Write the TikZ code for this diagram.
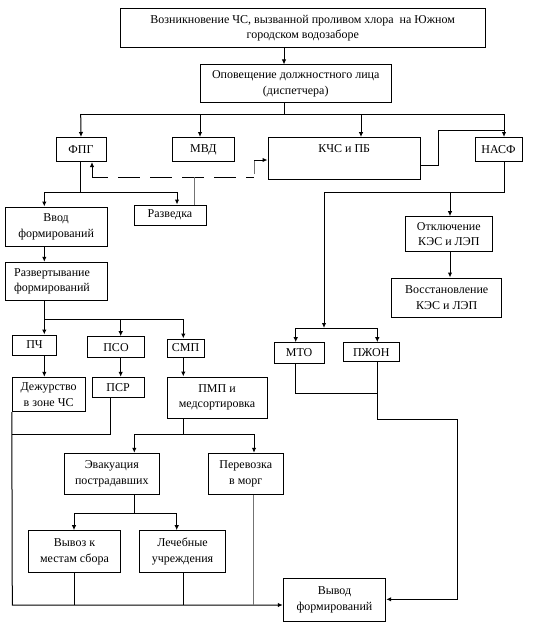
\documentclass[tikz,border=0pt]{standalone}
\usepackage{fontspec}
\setmainfont{Liberation Serif}
\usetikzlibrary{arrows.meta}
\tikzset{
  blk/.style={draw,line width=1pt,align=center,inner sep=1pt,font=\fontsize{12}{15.5}\selectfont},
  blkarr/.style={-{Latex[length=5pt,width=4.5pt]},line width=1pt},
  blkln/.style={line width=1pt},
  grayln/.style={line width=1pt,black!55},
  dashln/.style={line width=1pt,dash pattern=on 22pt off 10pt,dash phase=6pt}
}

\begin{document}
\begin{tikzpicture}[x=1pt,y=-1pt]
  \useasboundingbox (0,0) rectangle (536,626);

  % --- Niveau 1 : alerte ---
  \node[blk,minimum width=365.5pt,minimum height=39.5pt] (top) at (302.75,28.25)
    {Возникновение ЧС, вызванной проливом хлора\ \ на Южном\\городском водозаборе};
  \node[blk,minimum width=191.5pt,minimum height=37.6pt] (opov) at (295.75,83.8)
    {Оповещение должностного лица\\(диспетчера)};
  \coordinate (b0) at (284,114);
  \draw[blkarr] (top.south -| b0) -- (opov.north -| b0);
  \draw[blkln] (opov.south -| b0) -- (b0);

  % --- Niveau 2 : services ---
  \node[blk,minimum width=50pt,minimum height=24pt] (fpg) at (81,149.5) {ФПГ};
  \node[blk,minimum width=61.4pt,minimum height=24pt] (mvd) at (203.3,149.5) {МВД};
  \node[blk,minimum width=152.5pt,minimum height=41.4pt] (kchs) at (344.25,158.3) {КЧС и ПБ\\\strut};
  \node[blk,minimum width=47pt,minimum height=24pt] (nasf) at (498.5,149.5) {НАСФ};
  \coordinate (bf) at (80.7,114);
  \coordinate (bm) at (200,114);
  \coordinate (bk) at (361,114);
  \coordinate (bn) at (504,114);
  \draw[blkln] (bf) -- (bn);
  \draw[blkarr] (bf) -- (fpg.north);
  \draw[blkarr] (bm) -- (bm |- mvd.north);
  \draw[blkarr] (bk) -- (bk |- kchs.north);
  \draw[blkarr] (bn) -- (bn |- nasf.north);
  \coordinate (k1) at (438.6,165);
  \coordinate (k2) at (504,130);
  \draw[blkln] (kchs.east |- k1) -- (k1) |- (k2);

  % --- Branche ФПГ ---
  \node[blk,minimum width=102.3pt,minimum height=39.7pt] (vvod) at (56.15,226.85) {Ввод\\формирований};
  \node[blk,minimum width=72pt,minimum height=20pt] (razv) at (170,215) {Разведка};
  \coordinate (f1) at (80.7,192);
  \coordinate (f2) at (44.3,192);
  \coordinate (f3) at (177,192);
  \draw[blkln] (fpg.south -| f1) -- (f1);
  \draw[blkln] (f2) -- (f3);
  \draw[blkarr] (f2) -- (vvod.north -| f2);
  \draw[blkarr] (f3) -- (razv.north -| f3);

  % liaison de reconnaissance (pointillés)
  \coordinate (d1) at (92,177);
  \coordinate (d2) at (254,177);
  \coordinate (d3) at (194,177);
  \coordinate (d4) at (254,160);
  \draw[dashln] (d1) -- (d2);
  \draw[grayln] (razv.north -| d3) -- (d3);
  \draw[blkarr] (d1) -- (fpg.south -| d1);
  \draw[grayln] ([yshift=3pt]d2) -- (d4);
  \draw[blkarr] (d4) -- (kchs.west |- d4);

  \node[blk,minimum width=102.3pt,minimum height=37.7pt,align=left,text width=84pt] (razvert) at (56.15,281.15)
    {Развертывание\\формирований};
  \draw[blkarr] (vvod.south -| f2) -- (razvert.north -| f2);

  % --- Niveau 3 : ПЧ, ПСО, СМП ---
  \node[blk,minimum width=44.4pt,minimum height=20pt] (pch) at (34.5,345) {ПЧ};
  \node[blk,minimum width=56.6pt,minimum height=21pt] (pso) at (116,347.2) {ПСО};
  \node[blk,minimum width=37pt,minimum height=18pt] (smp) at (185.5,348) {СМП};
  \coordinate (r1) at (44.3,319.3);
  \coordinate (r2) at (120.7,319.3);
  \coordinate (r3) at (183.3,319.3);
  \draw[blkln] (razvert.south -| r1) -- (r1) -- (r3);
  \draw[blkarr] (r1) -- (pch.north -| r1);
  \draw[blkarr] (r2) -- (pso.north -| r2);
  \draw[blkarr] (r3) -- (smp.north -| r3);

  \node[blk,minimum width=72.7pt,minimum height=34.4pt] (dezh) at (48.65,394.5) {Дежурство\\в зоне ЧС};
  \node[blk,minimum width=51.7pt,minimum height=20pt] (psr) at (118.15,387.3) {ПСР};
  \node[blk,minimum width=100pt,minimum height=41pt] (pmp) at (217,397.5) {ПМП и\\медсортировка};
  \draw[blkarr] (pch.south -| r1) -- (dezh.north -| r1);
  \draw[blkarr] (pso.south -| r2) -- (psr.north -| r2);
  \draw[blkarr] (smp.south -| r3) -- (pmp.north -| r3);

  % --- Branche ПМП ---
  \node[blk,minimum width=95pt,minimum height=41pt] (evak) at (111.8,473.8) {Эвакуация\\пострадавших};
  \node[blk,minimum width=75pt,minimum height=41pt] (perev) at (245.8,473.8) {Перевозка\\в морг};
  \coordinate (p1) at (183.3,434);
  \coordinate (p2) at (134.3,434);
  \coordinate (p3) at (254,434);
  \draw[blkln] (pmp.south -| p1) -- (p1);
  \draw[blkln] (p2) -- (p3);
  \draw[blkarr] (p2) -- (evak.north -| p2);
  \draw[blkarr] (p3) -- (perev.north -| p3);

  \node[blk,minimum width=92.4pt,minimum height=42pt] (vyvoz) at (74.5,551.7) {Вывоз к\\местам сбора};
  \node[blk,minimum width=86.4pt,minimum height=42pt] (lech) at (182.5,551.7) {Лечебные\\учреждения};
  \coordinate (e1) at (134.3,513.3);
  \coordinate (e2) at (74,513.3);
  \coordinate (e3) at (176.7,513.3);
  \draw[blkln] (evak.south -| e1) -- (e1);
  \draw[blkln] (e2) -- (e3);
  \draw[blkarr] (e2) -- (vyvoz.north -| e2);
  \draw[blkarr] (e3) -- (lech.north -| e3);

  % --- Branche НАСФ ---
  \node[blk,minimum width=86.3pt,minimum height=35pt] (otkl) at (448.85,234.2) {Отключение\\КЭС и ЛЭП};
  \node[blk,minimum width=110pt,minimum height=39.7pt] (vosst) at (446.7,297.85) {Восстановление\\КЭС и ЛЭП};
  \coordinate (n1) at (504,192);
  \coordinate (n2) at (324,192);
  \coordinate (n3) at (450,192);
  \coordinate (n4) at (324,328);
  \draw[blkln] (nasf.south -| n1) -- (n1) -- (n2);
  \draw[blkarr] (n2) -- (n4);
  \draw[blkarr] (n3) -- (otkl.north -| n3);
  \draw[blkarr] (otkl.south -| n3) -- (vosst.north -| n3);

  \node[blk,minimum width=50.3pt,minimum height=20.6pt] (mto) at (299.15,353) {МТО};
  \node[blk,minimum width=56pt,minimum height=19pt] (pzhon) at (371.3,352.2) {ПЖОН};
  \coordinate (m1) at (295.7,328);
  \coordinate (m2) at (377.3,328);
  \draw[blkln] (m1) -- (m2);
  \draw[blkarr] (m1) -- (mto.north -| m1);
  \draw[blkarr] (m2) -- (pzhon.north -| m2);

  % --- Sortie ---
  \node[blk,minimum width=102.4pt,minimum height=42.7pt] (vyvod) at (334.5,599.65) {Вывод\\формирований};
  \coordinate (o1) at (12.3,605);
  \coordinate (o2) at (110,434);
  \draw[blkarr] (dezh.south west) -- (o1) -- (vyvod.west |- o1);
  \draw[blkln] (psr.south -| o2) -- (o2) -- (o2 -| o1);
  \draw[blkln] (vyvoz.south -| e2) -- (e2 |- o1);
  \draw[blkln] (lech.south -| p1) -- (p1 |- o1);
  \draw[grayln] (perev.south -| 253.3,0) -- (253.3,605);

  \coordinate (q1) at (295.7,393.3);
  \coordinate (q2) at (377.3,419.3);
  \coordinate (q3) at (457.5,419.3);
  \coordinate (q4) at (457.5,599.3);
  \draw[blkln] (mto.south -| q1) -- (q1) -| (pzhon.south -| q2);
  \draw[blkarr] (q1 -| q2) -- (q2) -- (q3) -- (q4) -- (vyvod.east |- q4);

\end{tikzpicture}
\end{document}
